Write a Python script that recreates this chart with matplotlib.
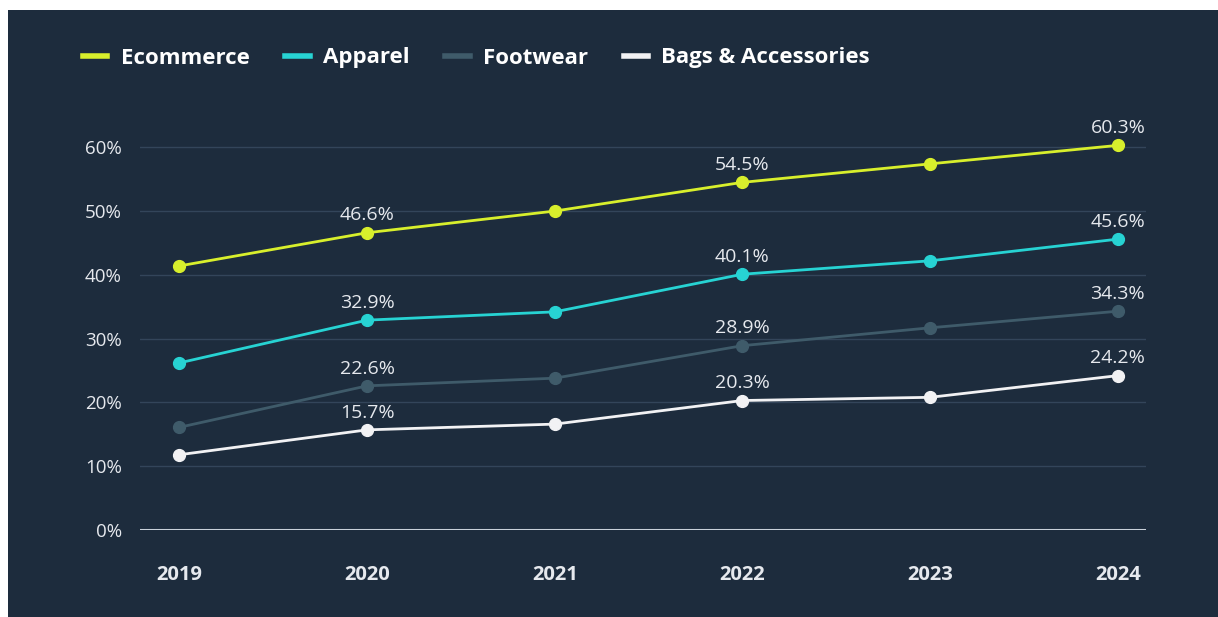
import matplotlib.pyplot as plt
from matplotlib.patches import Rectangle

# Online share of sales by category, 2019-2024
years = ["2019", "2020", "2021", "2022", "2023", "2024"]
ecommerce = [41.4, 46.6, 50.0, 54.5, 57.4, 60.3]
apparel = [26.2, 32.9, 34.2, 40.1, 42.2, 45.6]
footwear = [16.1, 22.6, 23.8, 28.9, 31.7, 34.3]
bags = [11.8, 15.7, 16.6, 20.3, 20.8, 24.2]

# which points get a value label
labeled = [1, 3, 5]

series = [
    ("Ecommerce", ecommerce, "#d8ef2c"),
    ("Apparel", apparel, "#27d3d3"),
    ("Footwear", footwear, "#3f5b6a"),
    ("Bags & Accessories", bags, "#f2f2f4"),
]

bg = "#1d2c3d"
text_col = "#e6e9ee"
font = ["Open Sans", "DejaVu Sans"]

fig = plt.figure(figsize=(12.18, 6.17), dpi=100, facecolor="white")
fig.patches.append(Rectangle((8 / 1218, 0), 1, 1 - 10 / 617,
                             transform=fig.transFigure, facecolor=bg,
                             edgecolor="none", zorder=-10))

ax = fig.add_axes([140 / 1218, 87 / 617, 1006 / 1218, 421 / 617])
ax.set_facecolor("none")

x = list(range(len(years)))
for name, vals, col in series:
    ax.plot(x, vals, color=col, lw=2.0, marker="o", markersize=8.5,
            label=name, zorder=3, solid_capstyle="round")
    for i in labeled:
        ax.annotate(f"{vals[i]:.1f}%", (i, vals[i]), xytext=(0, 6),
                    textcoords="offset points", ha="center", va="bottom",
                    color=text_col, fontsize=14, family=font, zorder=4)

ax.set_xlim(-0.21, 5.15)
ax.set_ylim(0, 66)
ax.set_yticks([0, 10, 20, 30, 40, 50, 60])
ax.set_yticklabels([f"{v}%" for v in range(0, 70, 10)])
ax.set_xticks(x)
ax.set_xticklabels(years)

for v in range(10, 70, 10):
    ax.axhline(v, color="#33455a", lw=1.0, zorder=1)
ax.axhline(0, color="#c9d1da", lw=2.2, zorder=2)

for s in ax.spines.values():
    s.set_visible(False)
ax.tick_params(axis="both", length=0)
ax.tick_params(axis="y", pad=13)
ax.tick_params(axis="x", pad=25)
for lbl in ax.get_yticklabels():
    lbl.set_color(text_col)
    lbl.set_fontsize(13.5)
    lbl.set_family(font)
for lbl in ax.get_xticklabels():
    lbl.set_color(text_col)
    lbl.set_fontsize(14.5)
    lbl.set_fontweight("bold")
    lbl.set_family(font)

names = [n for n, _, _ in series]
leg_handles = [plt.Line2D([], [], color=c, lw=4) for _, _, c in series]
leg = fig.legend(leg_handles, names, loc="center left", ncol=4,
                 bbox_to_anchor=(63 / 1218, 1 - 58 / 617), frameon=False,
                 handlelength=1.1, handletextpad=0.6, columnspacing=1.6,
                 prop={"family": font, "weight": "bold", "size": 16})
for t in leg.get_texts():
    t.set_color("white")

fig.savefig("out.png", dpi=100, facecolor="white")
